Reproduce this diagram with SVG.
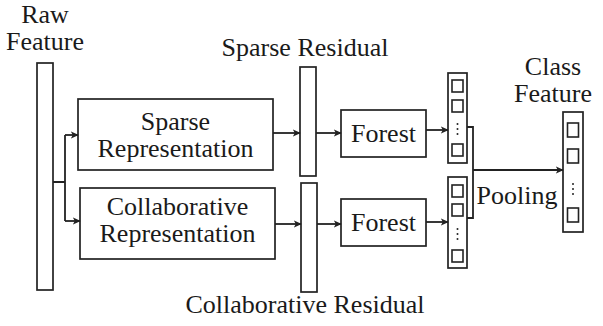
<svg xmlns="http://www.w3.org/2000/svg" width="603" height="326" viewBox="0 0 603 326">
  <defs>
    <marker id="arrow" viewBox="0 0 10 10" refX="9" refY="5" markerWidth="8" markerHeight="8" markerUnits="userSpaceOnUse" orient="auto">
      <path d="M0,0.5 L10,5 L0,9.5 L2.5,5 Z" fill="#222"/>
    </marker>
  </defs>
  <style>
    .box { fill: #fff; stroke: #222; stroke-width: 1.7; }
    .cell { fill: #fff; stroke: #222; stroke-width: 1.6; }
    .dot { fill: #222; }
    .lbl { font-family: Liberation Serif, serif; font-size: 26px; fill: #1a1a1a; text-anchor: middle; }
    .edge { fill: none; stroke: #222; stroke-width: 1.8; }
    .arr { fill: none; stroke: #222; stroke-width: 1.8; marker-end: url(#arrow); }
  </style>
  <rect width="603" height="326" fill="#fff"/>

  <!-- raw feature column -->
  <g id="raw-feature">
    <text class="lbl" x="45" y="23">Raw</text>
    <text class="lbl" x="45" y="50">Feature</text>
    <rect class="box" x="37" y="63" width="16" height="227"/>
  </g>

  <g id="sparse-representation">
    <rect class="box" x="78" y="99" width="195" height="71"/>
    <text class="lbl" x="175.5" y="130">Sparse</text>
    <text class="lbl" x="175.5" y="157">Representation</text>
  </g>

  <g id="collaborative-representation">
    <rect class="box" x="80" y="188" width="195" height="71"/>
    <text class="lbl" x="177.5" y="215">Collaborative</text>
    <text class="lbl" x="177.5" y="242">Representation</text>
  </g>

  <g id="sparse-residual">
    <text class="lbl" x="305" y="56">Sparse Residual</text>
    <rect class="box" x="300" y="67" width="16" height="109"/>
  </g>

  <g id="collaborative-residual">
    <rect class="box" x="301" y="183" width="16" height="109"/>
    <text class="lbl" x="305" y="313">Collaborative Residual</text>
  </g>

  <g id="forest-1">
    <rect class="box" x="341" y="110" width="85" height="47"/>
    <text class="lbl" x="383.5" y="142">Forest</text>
  </g>

  <g id="forest-2">
    <rect class="box" x="341" y="199" width="85" height="47"/>
    <text class="lbl" x="383.5" y="231">Forest</text>
  </g>

  <!-- per-forest output vectors -->
  <g id="output-1">
    <rect class="box" x="448" y="73" width="19" height="90"/>
    <rect class="cell" x="452" y="80" width="11" height="12"/>
    <rect class="cell" x="452" y="100" width="11" height="12"/>
    <circle class="dot" cx="457.5" cy="124" r="1"/>
    <circle class="dot" cx="457.5" cy="129" r="1"/>
    <circle class="dot" cx="457.5" cy="134" r="1"/>
    <rect class="cell" x="452" y="144" width="11" height="12"/>
  </g>

  <g id="output-2">
    <rect class="box" x="448" y="177" width="19" height="91"/>
    <rect class="cell" x="452" y="185" width="11" height="12"/>
    <rect class="cell" x="452" y="204" width="11" height="12"/>
    <circle class="dot" cx="457.5" cy="229" r="1"/>
    <circle class="dot" cx="457.5" cy="234" r="1"/>
    <circle class="dot" cx="457.5" cy="239" r="1"/>
    <rect class="cell" x="452" y="250" width="11" height="12"/>
  </g>

  <text id="pooling" class="lbl" x="517" y="204">Pooling</text>

  <g id="class-feature">
    <text class="lbl" x="553" y="75">Class</text>
    <text class="lbl" x="553" y="102">Feature</text>
    <rect class="box" x="563" y="112" width="20" height="120"/>
    <rect class="cell" x="567.5" y="123" width="11" height="14"/>
    <rect class="cell" x="567.5" y="149" width="11" height="14"/>
    <circle class="dot" cx="573" cy="184" r="1"/>
    <circle class="dot" cx="573" cy="189" r="1"/>
    <circle class="dot" cx="573" cy="194" r="1"/>
    <rect class="cell" x="567.5" y="208" width="11" height="14"/>
  </g>

  <g id="connectors">
    <path class="edge" d="M53,182 H65 M65,135 V221"/>
    <path class="arr" d="M65,135 H78"/>
    <path class="arr" d="M65,221 H80"/>
    <path class="arr" d="M273,133 H300"/>
    <path class="arr" d="M275,224 H301"/>
    <path class="arr" d="M316,133 H341"/>
    <path class="arr" d="M317,224 H341"/>
    <path class="arr" d="M426,130 H448"/>
    <path class="arr" d="M426,222 H448"/>
    <path class="edge" d="M467,127 H473 V218 H467"/>
    <path class="arr" d="M473,170 H563"/>
  </g>
</svg>
